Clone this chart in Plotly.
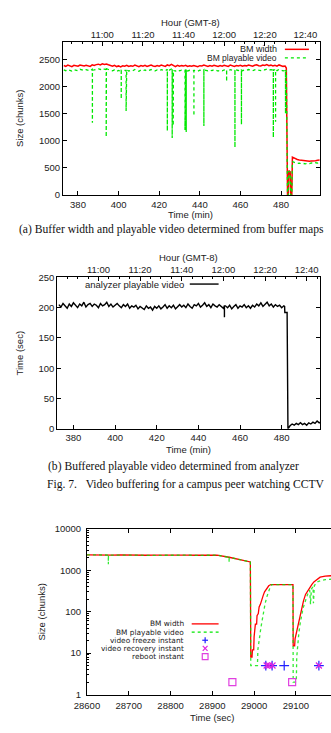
import plotly.graph_objects as go

W, H = 331, 733

# ---------------- (a) buffer map width / playable video ----------------
time_a = list(range(373, 483)) + [482.6, 483.2, 483.6, 483.8, 484.5, 484.8, 485.3, 485.6,
                                   486, 487, 488, 489, 490, 491, 492, 493, 494, 495, 496, 497, 498, 499]
bm_width_a = [
    2385, 2370, 2392, 2378, 2365, 2388, 2380, 2372, 2395, 2383,
    2376, 2390, 2381, 2369, 2398, 2386, 2402, 2410, 2395, 2418,
    2405, 2412, 2398, 2384, 2372, 2390, 2366, 2378, 2361, 2380,
    2374, 2389, 2368, 2382, 2371, 2395, 2379, 2363, 2385, 2372,
    2388, 2367, 2380, 2393, 2376, 2369, 2386, 2374, 2392, 2381,
    2370, 2396, 2384, 2405, 2378, 2366, 2389, 2372, 2383, 2375,
    2390, 2368, 2381, 2373, 2387, 2379, 2364, 2382, 2376, 2393,
    2380, 2369, 2385, 2374, 2391, 2378, 2367, 2384, 2372, 2388,
    2375, 2370, 2392, 2381, 2368, 2386, 2377, 2390, 2373, 2384,
    2379, 2393, 2385, 2371, 2389, 2398, 2382, 2376, 2394, 2387,
    2401, 2383, 2392, 2378, 2389, 2374, 2396, 2381, 2370, 2376,
    2340, 0, 0, 450, 430, 0, 0, 700,
    690, 672, 655, 648, 640, 632, 636, 628, 622, 630, 625, 633, 640, 645]
bm_play_a = [
    2305, 2290, 2312, 2298, 2284, 2308, 2296, 2287, 2315, 2302,
    2293, 2310, 2299, 2286, 2318, 2304, 2322, 2328, 2311, 2335,
    2320, 2326, 2312, 2300, 2289, 2306, 2280, 2295, 2278, 2297,
    2290, 2306, 2283, 2299, 2288, 2312, 2294, 2279, 2302, 2289,
    2305, 2283, 2297, 2311, 2292, 2286, 2303, 2290, 2309, 2298,
    2287, 2314, 2301, 2322, 2294, 2282, 2306, 2289, 2300, 2292,
    2307, 2285, 2298, 2290, 2304, 2296, 2281, 2299, 2293, 2310,
    2297, 2286, 2302, 2291, 2308, 2295, 2284, 2301, 2289, 2305,
    2292, 2287, 2309, 2298, 2285, 2303, 2294, 2307, 2290, 2301,
    2296, 2311, 2302, 2288, 2306, 2315, 2299, 2293, 2312, 2304,
    2318, 2300, 2309, 2295, 2306, 2291, 2313, 2298, 2287, 2292,
    2280, 0, 0, 440, 420, 0, 0, 620,
    610, 595, 585, 590, 578, 583, 575, 588, 580, 592, 585, 596, 590, 600]
spike_t_a = [387.1, 393.9, 401.3, 403.7, 424.0, 426.4, 426.9, 432.7, 433.3, 437.1,
             442.0, 453.2, 457.3, 460.5, 476.2, 477.3, 482.2]
spike_top_a = [2300, 2310, 2300, 2295, 2300, 2305, 2300, 2300, 2300, 2295,
               2300, 2295, 2300, 2300, 2305, 2305, 2300]
spike_low_a = [1330, 1070, 1770, 1550, 1180, 1050, 1280, 1200, 1160, 1460,
               1270, 2090, 880, 1300, 1060, 1350, 1500]

# ---------------- (b) analyzer playable video ----------------
time_b = list(range(373, 482)) + [481.4, 481.5, 482.6, 482.7, 483.0, 484, 485, 486, 487, 488,
                                   489, 490, 491, 492, 493, 494, 495, 496, 497, 498, 498.6]
analyzer_b = [
    205, 201, 207, 203, 199, 206, 202, 208, 204, 200,
    206, 203, 209, 201, 205, 207, 202, 206, 204, 200,
    207, 203, 205, 209, 202, 206, 201, 204, 207, 203,
    200, 205, 202, 206, 199, 203, 201, 204, 198, 202,
    200, 197, 203, 199, 201, 196, 202, 199, 203, 198,
    201, 205, 199, 203, 200, 204, 198, 202, 205, 201,
    204, 200, 206, 202, 199, 205, 203, 207, 201, 204,
    208, 202, 205, 200, 206, 203, 201, 205, 202, 199,
    203, 200, 204, 198, 202, 205, 199, 203, 201, 205,
    200, 203, 199, 204, 201, 206, 203, 208, 202, 205,
    209, 203, 206, 201, 205, 202, 204, 200, 203,
    202, 192, 192, 0, 0, 5, 8, 6, 9, 7,
    10, 7, 9, 6, 10, 8, 11, 9, 13, 10, 11]
dip_t_b = [452.5]
dip_top_b = [203]
dip_low_b = [184]

# ---------------- (c) log-scale buffer with events ----------------
time_c_width = [28600, 28620, 28640, 28660, 28680, 28700, 28720, 28740, 28760, 28780, 28800,
                28820, 28840, 28860, 28880, 28900, 28911, 28940, 28960, 28980, 28991,
                28992, 28995, 28996, 28999, 29000, 29002, 29003, 29006, 29007, 29010, 29012,
                29015, 29018, 29022, 29025, 29030, 29035, 29040, 29093, 29093.5, 29097, 29098,
                29101, 29104, 29106, 29110, 29113, 29118, 29123, 29128, 29133, 29138, 29143,
                29150, 29158, 29170, 29190]
bm_width_c = [2350, 2320, 2340, 2310, 2330, 2300, 2320, 2290, 2310, 2330, 2300,
              2280, 2310, 2290, 2320, 2300, 2310, 2050, 1850, 1700, 1580,
              8, 8, 12, 12, 25, 35, 50, 50, 80, 90, 130,
              150, 200, 250, 300, 370, 420, 450, 450, 15, 15, 22,
              30, 45, 60, 90, 120, 180, 260, 320, 380, 450, 520,
              600, 680, 720, 740]
time_c_play = [28600, 28620, 28640, 28651, 28651.2, 28651.4, 28660, 28680, 28700, 28720, 28740,
               28760, 28780, 28800, 28820, 28840, 28860, 28880, 28900, 28911, 28940, 28940.2,
               28940.4, 28960, 28980, 28991, 28992, 29008, 29009, 29012, 29014, 29016, 29019,
               29022, 29026, 29030, 29034, 29038, 29042, 29093, 29093.5, 29101, 29102, 29104,
               29107, 29110, 29113, 29117, 29121, 29125, 29129, 29133, 29135, 29137, 29141,
               29142, 29144, 29148, 29153, 29160, 29170, 29190]
bm_play_c = [2340, 2310, 2330, 2320, 1390, 2320, 2300, 2320, 2290, 2310, 2280,
             2300, 2320, 2290, 2270, 2300, 2280, 2310, 2290, 2300, 2050, 1550,
             2050, 1850, 1700, 1580, 5, 5, 12, 18, 28, 40, 60,
             100, 150, 220, 300, 380, 450, 450, 2, 2, 8, 15,
             30, 50, 80, 120, 160, 220, 280, 330, 150, 350, 400,
             160, 420, 480, 530, 560, 590, 610]
freeze_t = [29028, 29043, 29072, 29155]
freeze_y = [5, 5, 5, 5]
recovery_t = [29030, 29036, 29044, 29155]
recovery_y = [5, 5, 5, 5]
reboot_t = [28948, 29091]
reboot_y = [2, 2]

hour_tick_min = [392, 412, 432, 452, 472, 492]
hour_tick_text = ["11:00", "11:20", "11:40", "12:00", "12:20", "12:40"]
sec_ticks = [28600, 28700, 28800, 28900, 29000, 29100]
sec_tick_text = ["28600", "28700", "28800", "28900", "29000", "29100"]


def with_spikes(t_base, v_base, st, stop, slow):
    pts = list(zip(t_base, v_base))
    for t, a, b in zip(st, stop, slow):
        pts += [(t, a), (t, b), (t, a)]
    pts.sort(key=lambda p: p[0])
    return [p[0] for p in pts], [p[1] for p in pts]


def fx(p):
    return p / W


def fy(p):
    return 1 - p / H


RED = "#ff0000"
GREEN = "#00e800"
TXT = "#222222"
FONT = "Liberation Sans"
SERIF = "Liberation Serif"

fig = go.Figure()

# (a)
ta_g, va_g = with_spikes(time_a, bm_play_a, spike_t_a, spike_top_a, spike_low_a)
fig.add_trace(go.Scatter(x=time_a, y=bm_width_a, mode="lines", line=dict(color=RED, width=1.5),
                         xaxis="x", yaxis="y", showlegend=False))
fig.add_trace(go.Scatter(x=ta_g, y=va_g, mode="lines", line=dict(color=GREEN, width=1.3, dash="dot"),
                         xaxis="x", yaxis="y", showlegend=False))
# empty helper traces so the top (hour) axes get drawn
fig.add_trace(go.Scatter(x=[], y=[], mode="lines", xaxis="x2", yaxis="y", showlegend=False,
                         hoverinfo="skip"))
# (b)
tb, vb = with_spikes(time_b, analyzer_b, dip_t_b, dip_top_b, dip_low_b)
fig.add_trace(go.Scatter(x=tb, y=vb, mode="lines", line=dict(color="#000000", width=1.4),
                         xaxis="x3", yaxis="y3", showlegend=False))
fig.add_trace(go.Scatter(x=[], y=[], mode="lines", xaxis="x4", yaxis="y3", showlegend=False,
                         hoverinfo="skip"))
# (c)
fig.add_trace(go.Scatter(x=time_c_width, y=bm_width_c, mode="lines", line=dict(color=RED, width=1.3),
                         xaxis="x5", yaxis="y5", showlegend=False))
fig.add_trace(go.Scatter(x=time_c_play, y=bm_play_c, mode="lines",
                         line=dict(color=GREEN, width=1.3, dash="dot"), opacity=0.8,
                         xaxis="x5", yaxis="y5", showlegend=False))
fig.add_trace(go.Scatter(x=freeze_t, y=freeze_y, mode="markers",
                         marker=dict(symbol="cross-thin", size=7, line=dict(color="#2020ff", width=1.2)),
                         xaxis="x5", yaxis="y5", showlegend=False))
fig.add_trace(go.Scatter(x=recovery_t, y=recovery_y, mode="markers",
                         marker=dict(symbol="x-thin", size=6, line=dict(color="#e020e0", width=1.2)),
                         xaxis="x5", yaxis="y5", showlegend=False))
fig.add_trace(go.Scatter(x=reboot_t, y=reboot_y, mode="markers",
                         marker=dict(symbol="square-open", size=7, color="#e040e0", line=dict(width=1.2)),
                         xaxis="x5", yaxis="y5", showlegend=False))

tickfont = dict(family=FONT, size=9.5, color=TXT)
common = dict(showline=True, linecolor="#000000", linewidth=1, ticks="inside", ticklen=4,
              tickcolor="#000000", showgrid=False, zeroline=False, tickfont=tickfont)
minor_hour = dict(ticks="inside", ticklen=2, tickcolor="#000000",
                  tickvals=[m for m in range(377, 500, 5) if m not in hour_tick_min])
log_minor = [m * 10 ** k for k in range(4) for m in range(2, 10)]

fig.update_layout(
    width=W, height=H, margin=dict(l=0, r=0, t=0, b=0),
    paper_bgcolor="white", plot_bgcolor="white", showlegend=False,
    xaxis=dict(domain=[fx(52), fx(320)], anchor="y", range=[372.6, 499.4],
               tickvals=[380, 400, 420, 440, 460, 480], mirror=True, **common),
    xaxis2=dict(domain=[fx(52), fx(320)], anchor="y", overlaying="x", side="top", range=[372.6, 499.4],
                tickvals=hour_tick_min, ticktext=hour_tick_text, minor=minor_hour, **common),
    yaxis=dict(domain=[fy(192), fy(37)], anchor="x", range=[0, 2810],
               tickvals=[0, 500, 1000, 1500, 2000, 2500], mirror="ticks", **common),
    xaxis3=dict(domain=[fx(46), fx(320)], anchor="y3", range=[372.2, 498.6],
                tickvals=[380, 400, 420, 440, 460, 480], mirror=True, **common),
    xaxis4=dict(domain=[fx(46), fx(320)], anchor="y3", overlaying="x3", side="top", range=[372.2, 498.6],
                tickvals=hour_tick_min, ticktext=hour_tick_text, minor=minor_hour, **common),
    yaxis3=dict(domain=[fy(429.3), fy(275.5)], anchor="x3", range=[0, 250],
                tickvals=[0, 50, 100, 150, 200, 250], mirror="ticks", **common),
    xaxis5=dict(domain=[fx(77), 1.0], anchor="y5", range=[28600, 29184],
                tickvals=sec_ticks, ticktext=sec_tick_text, mirror="ticks", ticklabelstandoff=2,
                **common),
    yaxis5=dict(domain=[fy(699), fy(530.7)], anchor="x5", type="log", range=[0, 4],
                tickvals=[1, 10, 100, 1000, 10000], ticktext=["1", "10", "100", "1000", "10000"],
                minor=dict(ticks="inside", ticklen=2, tickcolor="#000000", tickvals=log_minor),
                mirror=False, ticklabelstandoff=3, **common),
)

ann = []


def text(x, y, s, size=9.5, family=FONT, anchor="center", angle=0, color=TXT):
    ann.append(dict(x=fx(x), y=fy(y), xref="paper", yref="paper", text=s, showarrow=False,
                    xanchor=anchor, yanchor="middle", textangle=angle,
                    font=dict(family=family, size=size, color=color)))


# axis titles
text(185, 17, "Hour (GMT-8)")
text(185, 212, "Time (min)")
text(7, 114, "Size (chunks)", angle=-90)
text(183, 255, "Hour (GMT-8)")
text(183, 450, "Time (min)")
text(7, 352, "Time (sec)", angle=-90)
text(30, 615, "Size (chunks)", angle=-90)
text(208, 722, "Time (sec)")

# captions
text(4, 227, "(a) Buffer width and playable video determined from buffer maps", size=11.6,
     family=SERIF, anchor="left", color="#111111")
text(34, 468, "(b) Buffered playable video determined from analyzer", size=11.6,
     family=SERIF, anchor="left", color="#111111")
text(33, 486, "Fig. 7.\u00a0\u00a0\u00a0Video buffering for a campus peer watching CCTV", size=11.6,
     family=SERIF, anchor="left", color="#111111")

# legends (gnuplot style: text then sample)
shapes = []
text(277, 44, "BM width", size=9, anchor="right")
text(277, 52.7, "BM playable video", size=8.5, anchor="right")
shapes.append(dict(type="line", xref="paper", yref="paper", x0=fx(283), x1=fx(308), y0=fy(44), y1=fy(44),
                   line=dict(color=RED, width=1.5)))
shapes.append(dict(type="line", xref="paper", yref="paper", x0=fx(283), x1=fx(308), y0=fy(52.7),
                   y1=fy(52.7), line=dict(color=GREEN, width=1.3, dash="dot")))

text(180, 282.3, "analyzer playable video", anchor="right")
shapes.append(dict(type="line", xref="paper", yref="paper", x0=fx(184), x1=fx(214), y0=fy(282.3),
                   y1=fy(282.3), line=dict(color="#000000", width=1.4)))

leg_c = [(627.3, "BM width"), (635.6, "BM playable video"), (643.9, "video freeze instant"),
         (652.2, "video recovery instant"), (660.5, "reboot instant")]
for yy, s in leg_c:
    text(180, yy, s, size=7.4, family="DejaVu Sans", anchor="right")
shapes.append(dict(type="line", xref="paper", yref="paper", x0=fx(186), x1=fx(214), y0=fy(627.3),
                   y1=fy(627.3), line=dict(color=RED, width=1.3)))
shapes.append(dict(type="line", xref="paper", yref="paper", x0=fx(186), x1=fx(214), y0=fy(635.6),
                   y1=fy(635.6), line=dict(color=GREEN, width=1.3, dash="dot")))
cx, cy = 200, 643.9
shapes.append(dict(type="line", xref="paper", yref="paper", x0=fx(cx - 3), x1=fx(cx + 3), y0=fy(cy),
                   y1=fy(cy), line=dict(color="#2020ff", width=1.2)))
shapes.append(dict(type="line", xref="paper", yref="paper", x0=fx(cx), x1=fx(cx), y0=fy(cy - 3),
                   y1=fy(cy + 3), line=dict(color="#2020ff", width=1.2)))
cy = 652.2
shapes.append(dict(type="line", xref="paper", yref="paper", x0=fx(cx - 2.5), x1=fx(cx + 2.5), y0=fy(cy - 2.5),
                   y1=fy(cy + 2.5), line=dict(color="#e020e0", width=1.2)))
shapes.append(dict(type="line", xref="paper", yref="paper", x0=fx(cx - 2.5), x1=fx(cx + 2.5), y0=fy(cy + 2.5),
                   y1=fy(cy - 2.5), line=dict(color="#e020e0", width=1.2)))
cy = 660.5
shapes.append(dict(type="rect", xref="paper", yref="paper", x0=fx(cx - 3), x1=fx(cx + 3), y0=fy(cy + 3),
                   y1=fy(cy - 3), line=dict(color="#e040e0", width=1.2)))

fig.update_layout(annotations=ann, shapes=shapes)
fig.write_html("out.html")
